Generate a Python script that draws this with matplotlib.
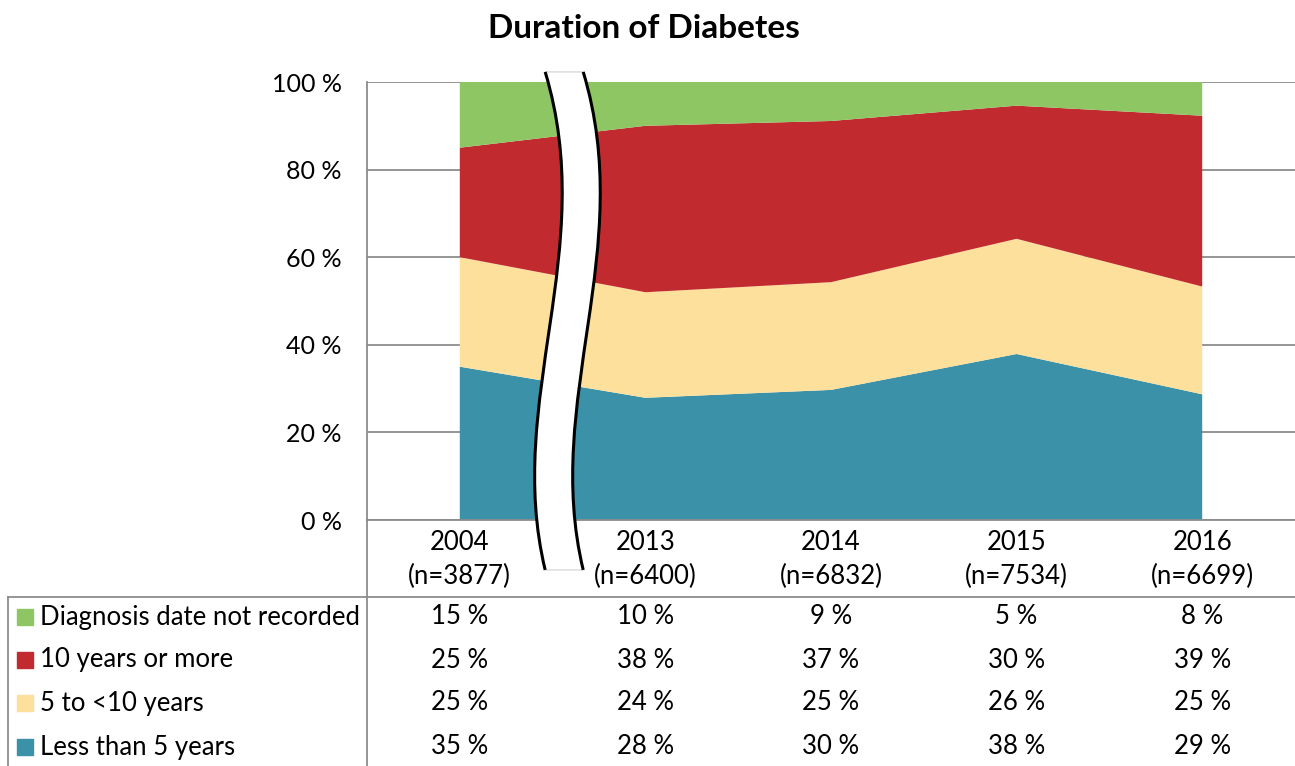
import matplotlib
matplotlib.use("Agg")
import matplotlib.pyplot as plt
from matplotlib.path import Path
from matplotlib.patches import PathPatch, Rectangle
from matplotlib.lines import Line2D
from matplotlib.transforms import blended_transform_factory

plt.rcParams['font.family'] = ['Lato', 'DejaVu Sans']

# --- data (shares in %) ---
years = ["2004", "2013", "2014", "2015", "2016"]
n_counts = [3877, 6400, 6832, 7534, 6699]
series_names = ["Less than 5 years", "5 to <10 years", "10 years or more",
                "Diagnosis date not recorded"]
less_than_5 = [35.0, 27.9, 29.7, 37.9, 28.7]
five_to_10 = [25.0, 24.1, 24.6, 26.3, 24.6]
ten_or_more = [25.0, 38.0, 36.8, 30.4, 39.0]
not_recorded = [15.0, 10.0, 8.9, 5.4, 7.7]
colors = ["#3A91A8", "#FDE09B", "#C12B2F", "#8DC663"]
series = [less_than_5, five_to_10, ten_or_more, not_recorded]

FS = 18.5
W, H = 1295, 766
fig = plt.figure(figsize=(W / 100, H / 100), dpi=100)
ax = fig.add_axes([367 / W, 1 - 520 / H, 1 - 367 / W, (520 - 82) / H])

x = list(range(len(years)))
ax.stackplot(x, *series, colors=colors, zorder=2)

ax.set_xlim(-0.5, 4.5)
ax.set_ylim(0, 100)
ax.set_yticks([0, 20, 40, 60, 80, 100])
ax.set_yticklabels([f"{v} %" for v in [0, 20, 40, 60, 80, 100]])
ax.yaxis.grid(True, color="#8c8c8c", lw=1.3, zorder=1)
ax.set_axisbelow(True)
ax.tick_params(axis='y', length=0, pad=18, labelsize=18)
ax.set_xticks(x)
ax.set_xticklabels([f"{y}\n(n={n})" for y, n in zip(years, n_counts)], linespacing=1.45)
ax.tick_params(axis='x', length=0, pad=7, labelsize=FS)
for s in ["top", "right"]:
    ax.spines[s].set_visible(False)
for s in ["left", "bottom"]:
    ax.spines[s].set_color("#8c8c8c")
    ax.spines[s].set_linewidth(1.3)

# --- axis break symbol between 2004 and 2013 ---
xc = 0.56
lx = [xc - 0.10, xc + 0.19, xc - 0.32, xc - 0.10]
ly = [102.3, 61.6, 27.4, -11.4]
gap = 0.205
left_pts = list(zip(lx, ly))
right_pts = [(px + gap, py) for px, py in left_pts]
verts = left_pts + [right_pts[3], right_pts[2], right_pts[1], right_pts[0], left_pts[0]]
codes = ([Path.MOVETO] + [Path.CURVE4] * 3 + [Path.LINETO] + [Path.CURVE4] * 3
         + [Path.CLOSEPOLY])
ax.add_patch(PathPatch(Path(verts, codes), facecolor="white", edgecolor="#d9d9d9",
                       lw=1, clip_on=False, zorder=5))
for pts in (left_pts, right_pts):
    ax.add_patch(PathPatch(Path(pts, [Path.MOVETO] + [Path.CURVE4] * 3),
                           facecolor="none", edgecolor="black", lw=2.2,
                           clip_on=False, zorder=6))

# --- title ---
fig.text(644 / W, 1 - 28 / H, "Duration of Diabetes", ha="center", va="center",
         fontsize=24, fontweight="bold")

# --- data table below the chart ---
gray = "#8c8c8c"
fig.add_artist(Line2D([367 / W, 367 / W], [0, 1 - 520 / H], color=gray, lw=1.3))
fig.add_artist(Line2D([8 / W, 1], [1 - 597 / H, 1 - 597 / H], color=gray, lw=1.3))
fig.add_artist(Line2D([8 / W, 8 / W], [0, 1 - 597 / H], color=gray, lw=1.3))

trans = blended_transform_factory(ax.transData, fig.transFigure)
row_y = [617, 660, 703, 747]
for i, idx in enumerate([3, 2, 1, 0]):
    yf = 1 - row_y[i] / H
    fig.add_artist(Rectangle((17 / W, yf - 8 / H), 16 / W, 16 / H,
                             transform=fig.transFigure, color=colors[idx]))
    fig.text(40 / W, yf, series_names[idx], ha="left", va="center", fontsize=FS)
    for j, v in enumerate(series[idx]):
        ax.text(j, yf, f"{v:.0f} %", transform=trans, ha="center", va="center",
                fontsize=FS, clip_on=False)

fig.savefig("out.png", dpi=100)
